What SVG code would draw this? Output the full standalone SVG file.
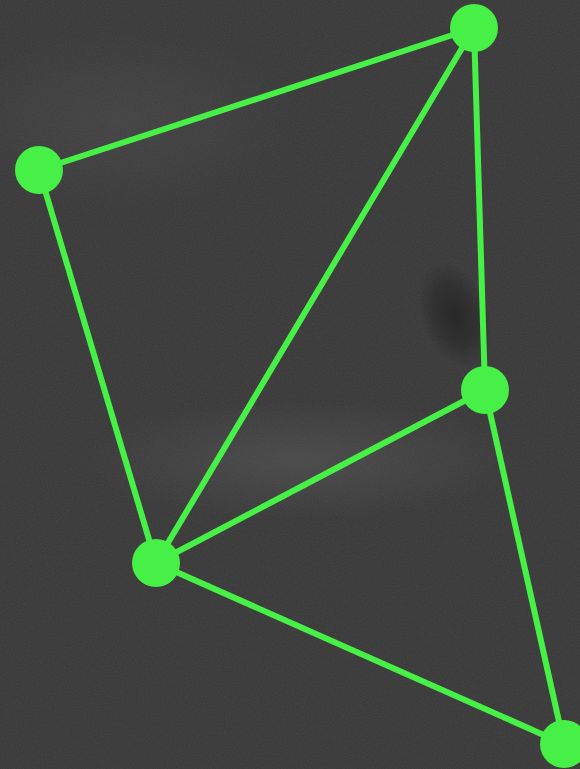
<svg xmlns="http://www.w3.org/2000/svg" width="580" height="769" viewBox="0 0 580 769">
<style>
.edge{stroke:#46f046;stroke-width:6;stroke-linecap:round;fill:none}
.node{fill:#46f046}
</style>
<defs>
<radialGradient id="smudge" cx="0.5" cy="0.5" r="0.5">
<stop offset="0" stop-color="#6a6a6a" stop-opacity="0.35"/>
<stop offset="1" stop-color="#6a6a6a" stop-opacity="0"/>
</radialGradient>
<radialGradient id="spot" cx="0.5" cy="0.5" r="0.5">
<stop offset="0" stop-color="#1c1c1c" stop-opacity="0.65"/>
<stop offset="0.6" stop-color="#1c1c1c" stop-opacity="0.35"/>
<stop offset="1" stop-color="#1c1c1c" stop-opacity="0"/>
</radialGradient>
<filter id="noise" x="0" y="0" width="100%" height="100%">
<feTurbulence type="fractalNoise" baseFrequency="0.9" numOctaves="2" seed="3" result="n"/>
<feColorMatrix type="matrix" values="0 0 0 0 0.5  0 0 0 0 0.5  0 0 0 0 0.5  0 0 0 0.12 0"/>
</filter>
</defs>
<rect width="580" height="769" fill="#363636"/>
<rect width="580" height="769" filter="url(#noise)"/>
<ellipse cx="300" cy="460" rx="220" ry="60" fill="url(#smudge)"/>
<ellipse cx="120" cy="120" rx="180" ry="90" fill="url(#smudge)" opacity="0.6"/>
<ellipse cx="455" cy="315" rx="34" ry="55" fill="url(#spot)" transform="rotate(-20 455 315)"/>
<g id="connectors">
<line class="edge" x1="474" y1="28" x2="39" y2="170"/>
<line class="edge" x1="474" y1="28" x2="485" y2="390"/>
<line class="edge" x1="474" y1="28" x2="156" y2="563"/>
<line class="edge" x1="39" y1="170" x2="156" y2="563"/>
<line class="edge" x1="485" y1="390" x2="156" y2="563"/>
<line class="edge" x1="485" y1="390" x2="564" y2="744"/>
<line class="edge" x1="156" y1="563" x2="564" y2="744"/>
</g>
<g id="node-a"><circle class="node" cx="474" cy="28" r="24"/></g>
<g id="node-b"><circle class="node" cx="39" cy="170" r="24"/></g>
<g id="node-c"><circle class="node" cx="485" cy="390" r="24"/></g>
<g id="node-d"><circle class="node" cx="156" cy="563" r="24"/></g>
<g id="node-e"><circle class="node" cx="564" cy="744" r="24"/></g>
</svg>
